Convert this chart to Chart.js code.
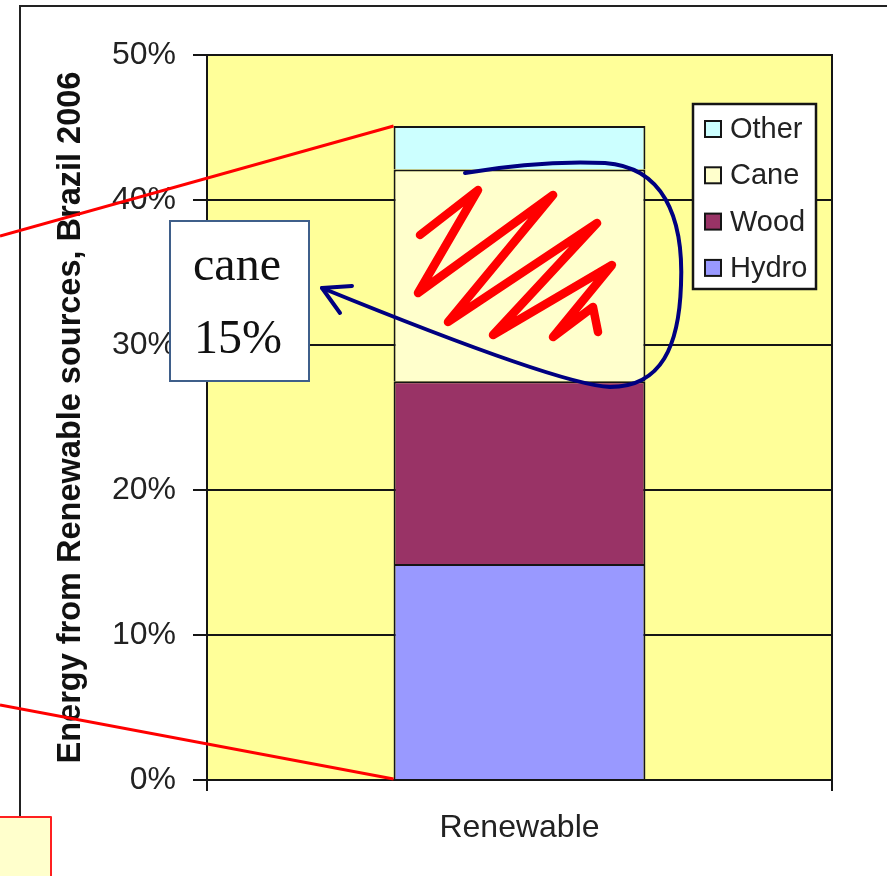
<!DOCTYPE html>
<html><head><meta charset="utf-8">
<script src="https://cdn.jsdelivr.net/npm/chart.js@4"></script>
<style>html,body{margin:0;padding:0;background:#fff;overflow:hidden}canvas{display:block}</style>
</head><body>
<canvas id="c" width="887" height="876"></canvas>
<script>
// ---- data ----
const categories = ['Renewable'];
const seriesNames = ['Hydro', 'Wood', 'Cane', 'Other'];
const hydro = [14.9];
const wood = [12.6];
const cane = [14.6];
const other = [3.0];
const seriesColors = ['#9999FF', '#993366', '#FFFFCC', '#CCFFFF'];
const yTicks = [0, 10, 20, 30, 40, 50];
const yTitle = 'Energy from Renewable sources, Brazil 2006';
const calloutLines = ['cane', '15%'];

const SANS = "'Liberation Sans', Arial, Helvetica, sans-serif";
const SERIF = "'Liberation Serif', 'Times New Roman', serif";
const INK = '#151515';

const frameBg = {
  id: 'frameBg',
  beforeDraw(chart) {
    const {ctx, chartArea: a} = chart;
    ctx.save();
    ctx.strokeStyle = '#222'; ctx.lineWidth = 2;
    ctx.beginPath(); ctx.moveTo(20, 817); ctx.lineTo(20, 6); ctx.lineTo(890, 6); ctx.stroke();
    ctx.fillStyle = '#FFFF99';
    ctx.fillRect(a.left, a.top, a.right - a.left, a.bottom - a.top);
    ctx.restore();
  },
  afterDatasetsDraw(chart) {
    const {ctx, chartArea: a} = chart;
    ctx.save();
    ctx.strokeStyle = INK; ctx.lineWidth = 2;
    ctx.strokeRect(a.left, a.top, a.right - a.left, a.bottom - a.top);
    ctx.restore();
  }
};

const boxLegend = {
  id: 'boxLegend',
  afterDraw(chart) {
    const {ctx} = chart;
    const ds = chart.data.datasets.slice().reverse();
    ctx.save();
    ctx.fillStyle = '#fff'; ctx.strokeStyle = INK; ctx.lineWidth = 2.5;
    ctx.fillRect(693, 104, 123, 185); ctx.strokeRect(693, 104, 123, 185);
    ctx.font = '29px ' + SANS; ctx.textBaseline = 'middle'; ctx.textAlign = 'left';
    ds.forEach((d, i) => {
      const cy = 129 + i * 46.3;
      ctx.fillStyle = d.backgroundColor; ctx.fillRect(705, cy - 8, 16, 16);
      ctx.lineWidth = 2; ctx.strokeStyle = INK; ctx.strokeRect(705, cy - 8, 16, 16);
      ctx.fillStyle = '#222'; ctx.fillText(d.label, 730, cy + 1);
    });
    ctx.restore();
  }
};

const annotations = {
  id: 'annotations',
  afterDraw(chart) {
    const {ctx} = chart;
    const topEl = chart.getDatasetMeta(3).data[0];
    const botEl = chart.getDatasetMeta(0).data[0];
    const left = topEl.x - topEl.width / 2;
    ctx.save();
    ctx.strokeStyle = '#FF0000'; ctx.lineWidth = 3; ctx.lineCap = 'butt';
    ctx.beginPath(); ctx.moveTo(left, topEl.y); ctx.lineTo(0, 236); ctx.stroke();
    ctx.beginPath(); ctx.moveTo(left, botEl.base); ctx.lineTo(0, 705); ctx.stroke();
    ctx.fillStyle = '#fff'; ctx.strokeStyle = '#3f5f8a'; ctx.lineWidth = 2;
    ctx.fillRect(170, 221, 139, 160); ctx.strokeRect(170, 221, 139, 160);
    ctx.fillStyle = '#111'; ctx.font = '48px ' + SERIF; ctx.textAlign = 'center'; ctx.textBaseline = 'alphabetic';
    ctx.fillText(calloutLines[0], 237, 280);
    ctx.fillText(calloutLines[1], 238, 353);
    const s = [[420,235],[478,190],[418,293],[553,195],[448,322],[597,223],[493,335],[612,265],[553,337],[593,307],[598,332]];
    ctx.strokeStyle = '#FF0000'; ctx.lineWidth = 8.5; ctx.lineJoin = 'round'; ctx.lineCap = 'round';
    ctx.beginPath(); ctx.moveTo(s[0][0], s[0][1]);
    for (let i = 1; i < s.length; i++) ctx.lineTo(s[i][0], s[i][1]);
    ctx.stroke();
    ctx.strokeStyle = '#000080'; ctx.lineWidth = 4; ctx.lineJoin = 'round'; ctx.lineCap = 'round';
    ctx.beginPath();
    ctx.moveTo(465, 173);
    ctx.quadraticCurveTo(540, 160, 605, 163);
    ctx.bezierCurveTo(662, 167, 684, 215, 681, 285);
    ctx.bezierCurveTo(679, 345, 662, 387, 610, 387);
    ctx.quadraticCurveTo(560, 385, 322, 288);
    ctx.stroke();
    ctx.beginPath(); ctx.moveTo(352, 286); ctx.lineTo(322, 288); ctx.lineTo(340, 313); ctx.stroke();
    ctx.fillStyle = '#FFFFCC'; ctx.strokeStyle = '#FF2020'; ctx.lineWidth = 2;
    ctx.fillRect(-3, 817, 54, 70); ctx.strokeRect(-3, 817, 54, 70);
    ctx.restore();
  }
};

const values = [hydro, wood, cane, other];
const datasets = seriesNames.map((n, i) => ({
  label: n,
  data: values[i],
  backgroundColor: seriesColors[i],
  borderColor: INK,
  borderWidth: 2,
  borderSkipped: 'start',
  barPercentage: 0.403,
  categoryPercentage: 1
}));

new Chart(document.getElementById('c'), {
  type: 'bar',
  data: {labels: categories, datasets},
  options: {
    responsive: false,
    devicePixelRatio: 1,
    animation: false,
    layout: {padding: {top: 55, right: 55, bottom: 0, left: 0}},
    plugins: {legend: {display: false}, tooltip: {enabled: false}},
    scales: {
      x: {
        stacked: true,
        afterFit(s) { s.height = 96; },
        grid: {drawOnChartArea: false, drawTicks: true, tickLength: 11, color: INK, lineWidth: 2},
        border: {display: true, color: INK, width: 2},
        ticks: {font: {family: SANS, size: 32}, color: '#222', padding: 18}
      },
      y: {
        stacked: true,
        min: 0, max: 50,
        afterFit(s) { s.width = 207; },
        afterBuildTicks(s) { s.ticks = yTicks.map(v => ({value: v})); },
        grid: {color: INK, lineWidth: 2, tickLength: 14},
        border: {display: true, color: INK, width: 2},
        ticks: {font: {family: SANS, size: 32}, color: '#222', padding: 17, callback: v => v + '%'},
        title: {display: true, text: yTitle, font: {family: SANS, size: 32.5, weight: 'bold'}, color: '#111', padding: {top: 52, bottom: 0}}
      }
    }
  },
  plugins: [frameBg, boxLegend, annotations]
});
</script>
</body></html>
